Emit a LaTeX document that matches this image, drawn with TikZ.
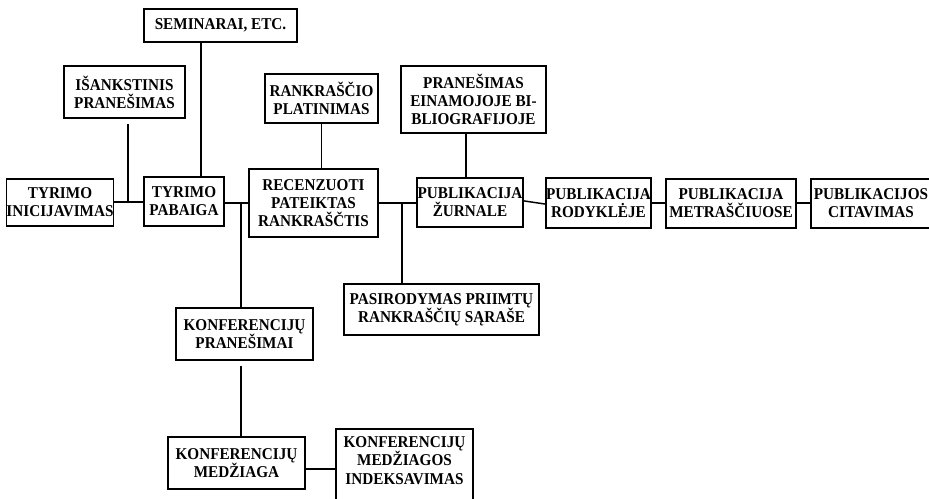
\documentclass[tikz,border=0pt]{standalone}
\usepackage{fontspec}
\setmainfont{Liberation Serif}[FakeStretch=0.92]
\begin{document}
\begin{tikzpicture}[x=0.75pt,y=-0.75pt,
  box/.style={draw, line width=1.3pt, align=center, inner sep=0pt,
    font=\bfseries\fontsize{12.4}{13.6}\selectfont},
  sz/.style n args={2}{minimum width=#1*0.75pt, minimum height=#2*0.75pt},
  link/.style={line width=1.1pt}]
\useasboundingbox (0,0) rectangle (929,499);
% boxes
\node[box, sz={153}{33}] (sem) at (220.5,25.5) {SEMINARAI, ETC.};
\node[box, sz={121}{52}] (isank) at (124.5,92) {IŠANKSTINIS\\PRANEŠIMAS};
\node[box, sz={113}{49}] (rank) at (321.5,98.5) {RANKRAŠČIO\\PLATINIMAS};
\node[box, sz={106}{47}] (inic) at (60,202.5) {TYRIMO\\INICIJAVIMAS};
\node[box, sz={80}{49}] (pab) at (184,201.5) {TYRIMO\\PABAIGA};
\node[box, sz={129}{68}] (rec) at (313.5,203) {RECENZUOTI\\PATEIKTAS\\RANKRAŠČTIS};
\node[box, sz={145}{67}] (pran) at (473.5,99.5) {PRANEŠIMAS\\EINAMOJOJE BI-\\BLIOGRAFIJOJE};
\node[box, sz={106}{49}] (zur) at (470,202.5) {PUBLIKACIJA\\ŽURNALE};
\node[box, sz={103}{50}] (rod) at (598.5,203) {PUBLIKACIJA\\RODYKLĖJE};
\node[box, sz={130}{49}] (met) at (731,203.5) {PUBLIKACIJA\\METRAŠČIUOSE};
\node[box, sz={120}{49}] (cit) at (871,203.5) {PUBLIKACIJOS\\CITAVIMAS};
\node[box, sz={195}{51}] (pas) at (441.5,309.5) {PASIRODYMAS PRIIMTŲ\\RANKRAŠČIŲ SĄRAŠE};
\node[box, sz={137}{52}] (kp) at (244.5,334) {KONFERENCIJŲ\\PRANEŠIMAI};
\node[box, sz={137}{52}] (km) at (236.5,463) {KONFERENCIJŲ\\MEDŽIAGA};
\node[box, sz={137}{81}] (ki) at (404.5,469.5) {KONFERENCIJŲ\\MEDŽIAGOS\\INDEKSAVIMAS\\~};
% junction points
\coordinate (j1) at (128,202);
\coordinate (j2) at (201,202);
\coordinate (j3) at (241,203);
\coordinate (j4) at (402,203);
\coordinate (j5) at (466,150);
\coordinate (j6) at (241,469);
% connectors
\draw[link] (inic.east |- j1) -- (pab.west |- j1);
\draw[link] ([yshift=-3.75pt]isank.south -| j1) -- (j1);
\draw[link] (sem.south -| j2) -- (pab.north -| j2);
\draw[link] (pab.east |- j3) -- (rec.west |- j3);
\draw[link] (j3) -- (kp.north -| j3);
\draw[link] (rank.south) -- (rec.north -| rank.south);
\draw[link] (rec.east |- j4) -- (zur.west |- j4);
\draw[link] (j4) -- (pas.north -| j4);
\draw[link] (pran.south -| j5) -- (zur.north -| j5);
\draw[link] ([yshift=1.2pt]zur.east) -- ([yshift=-0.8pt]rod.west);
\draw[link] (rod.east |- j4) -- (met.west |- j4);
\draw[link] (met.east |- j4) -- (cit.west |- j4);
\draw[link] ([yshift=-3.75pt]kp.south -| j3) -- (km.north -| j3);
\draw[link] (km.east |- j6) -- (ki.west |- j6);
\end{tikzpicture}
\end{document}
